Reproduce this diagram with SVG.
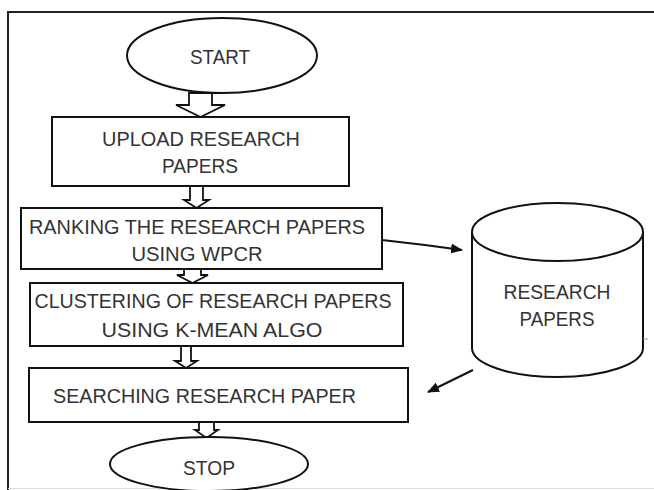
<svg xmlns="http://www.w3.org/2000/svg" width="654" height="490" viewBox="0 0 654 490">
<defs>
<style>
.shape{fill:#fff;stroke:#111;stroke-width:2}
.blk{fill:#fff;stroke:#111;stroke-width:1.8;stroke-linejoin:miter}
.t{font-family:"Liberation Sans",Arial,sans-serif;font-size:20px;fill:#333;text-anchor:middle}
.conn{fill:none;stroke:#111;stroke-width:2}
</style>
<marker id="ah" viewBox="0 0 12 10" refX="11" refY="5" markerWidth="12" markerHeight="10" markerUnits="userSpaceOnUse" orient="auto">
<path d="M0,0 L12,5 L0,10 Z" fill="#111"/>
</marker>
</defs>
<rect width="654" height="490" fill="#fff"/>
<g id="frame">
<path d="M8,490 L8,12 L654,12" fill="none" stroke="#222" stroke-width="2"/>
<line x1="8" y1="488.5" x2="654" y2="488.5" stroke="#ddd" stroke-width="1"/>
</g>
<g id="connectors">
<path class="blk" d="M189,93 L212,93 L212,105 L225,105 L200.5,117 L176,105 L189,105 Z"/>
<path class="blk" d="M190,186 L203,186 L203,200 L209,200 L196.5,208 L184,200 L190,200 Z"/>
<path class="blk" d="M184,269 L201,269 L201,275 L208,275 L192.5,283 L177,275 L184,275 Z"/>
<path class="blk" d="M181,346 L191,346 L191,361 L197,361 L186,368 L175,361 L181,361 Z"/>
<path class="blk" d="M199,422 L214,422 L214,430 L218,430 L206.5,438 L195,430 L199,430 Z"/>
<path class="conn" d="M382,240 L425,245 L462,250" marker-end="url(#ah)"/>
<line class="conn" x1="473" y1="370" x2="428" y2="392" marker-end="url(#ah)"/>
</g>
<g id="start">
<ellipse class="shape" cx="222" cy="55.5" rx="95" ry="37.5"/>
<text class="t" x="220" y="64" textLength="60" lengthAdjust="spacingAndGlyphs">START</text>
</g>
<g id="upload">
<rect class="shape" x="52" y="117" width="297" height="69"/>
<text class="t" x="201" y="146" textLength="198" lengthAdjust="spacingAndGlyphs">UPLOAD RESEARCH</text>
<text class="t" x="200" y="173" textLength="76" lengthAdjust="spacingAndGlyphs">PAPERS</text>
</g>
<g id="ranking">
<rect class="shape" x="21" y="208" width="361" height="61"/>
<text class="t" x="197" y="234" textLength="336" lengthAdjust="spacingAndGlyphs">RANKING THE RESEARCH PAPERS</text>
<text class="t" x="197" y="261" textLength="131" lengthAdjust="spacingAndGlyphs">USING WPCR</text>
</g>
<g id="clustering">
<rect class="shape" x="30" y="283" width="373" height="63"/>
<text class="t" x="213" y="308" textLength="357" lengthAdjust="spacingAndGlyphs">CLUSTERING OF RESEARCH PAPERS</text>
<text class="t" x="212" y="337" textLength="221" lengthAdjust="spacingAndGlyphs">USING K-MEAN ALGO</text>
</g>
<g id="searching">
<rect class="shape" x="29" y="368" width="379" height="54"/>
<text class="t" x="53" y="403" style="text-anchor:start" textLength="303" lengthAdjust="spacingAndGlyphs">SEARCHING RESEARCH PAPER</text>
</g>
<g id="stop">
<ellipse class="shape" cx="209" cy="464" rx="99" ry="27"/>
<text class="t" x="209" y="475" textLength="52" lengthAdjust="spacingAndGlyphs">STOP</text>
</g>
<g id="database">
<path class="shape" d="M472,232 L472,348 A85.5,29 0 0 0 643,348 L643,232"/>
<ellipse class="shape" cx="557.5" cy="232" rx="85.5" ry="29"/>
<line x1="643" y1="339" x2="648" y2="339" stroke="#999" stroke-width="1"/>
<text class="t" x="557" y="299" textLength="107" lengthAdjust="spacingAndGlyphs">RESEARCH</text>
<text class="t" x="557" y="326" textLength="75" lengthAdjust="spacingAndGlyphs">PAPERS</text>
</g>
</svg>
